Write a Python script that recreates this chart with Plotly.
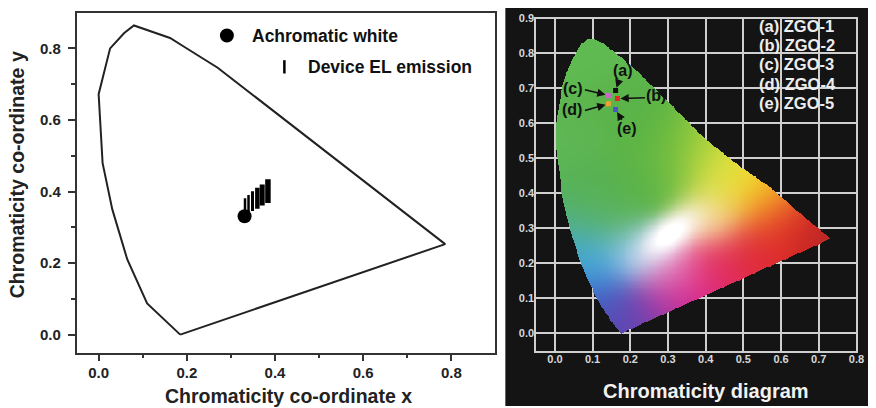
import numpy as np
import plotly.graph_objects as go

W, H = 876, 408
FONT = "Liberation Sans, Arial, sans-serif"

# ---------------- Left panel data ----------------
locus_x = [0.185, 0.11, 0.065, 0.031, 0.009, 0.0, 0.026, 0.058, 0.08, 0.162, 0.192, 0.27, 0.786, 0.185]
locus_y = [0.0, 0.087, 0.21, 0.35, 0.479, 0.672, 0.80, 0.843, 0.864, 0.829, 0.806, 0.746, 0.253, 0.0]

white_x = [0.331]
white_y = [0.331]

el_x = [0.332, 0.340, 0.349, 0.360, 0.371, 0.384]
el_y = [0.352, 0.361, 0.373, 0.381, 0.390, 0.401]

left_ticks = [0.0, 0.2, 0.4, 0.6, 0.8]
left_tick_text = ["0.0", "0.2", "0.4", "0.6", "0.8"]
left_minor = [0.1, 0.3, 0.5, 0.7]

# ---------------- Right panel data ----------------
gamut_x = [0.175, 0.159, 0.133, 0.107, 0.085, 0.063, 0.045, 0.032, 0.019, 0.011, 0.004, 0.002,
           0.004, 0.011, 0.020, 0.032, 0.045, 0.059, 0.072, 0.087, 0.105, 0.124, 0.159, 0.220,
           0.308, 0.396, 0.483, 0.571, 0.650, 0.732, 0.190]
gamut_y = [0.000, 0.024, 0.061, 0.110, 0.160, 0.221, 0.280, 0.334, 0.400, 0.466, 0.520, 0.560,
           0.610, 0.655, 0.705, 0.749, 0.782, 0.810, 0.830, 0.843, 0.842, 0.833, 0.805, 0.749,
           0.655, 0.560, 0.485, 0.419, 0.345, 0.272, 0.008]

# colour anchors (x, y, rgb)
anchor_x = [0.08, 0.15, 0.04, 0.25, 0.20, 0.10, 0.30, 0.05, 0.14, 0.34,
            0.40, 0.47, 0.43, 0.53, 0.57, 0.42,
            0.60, 0.66, 0.72, 0.52, 0.43, 0.35, 0.28, 0.21, 0.17, 0.13, 0.09, 0.06, 0.20, 0.30]
anchor_y = [0.78, 0.65, 0.55, 0.55, 0.42, 0.42, 0.45, 0.35, 0.33, 0.52,
            0.50, 0.46, 0.42, 0.41, 0.36, 0.33,
            0.30, 0.28, 0.27, 0.24, 0.19, 0.13, 0.08, 0.04, 0.02, 0.11, 0.20, 0.27, 0.23, 0.19]
anchor_rgb = [(96, 186, 82), (90, 180, 74), (94, 182, 84), (92, 180, 68), (90, 178, 74), (88, 178, 80),
              (100, 184, 66), (85, 178, 100), (90, 178, 95), (120, 192, 62),
              (195, 218, 58), (236, 231, 62), (222, 224, 78), (248, 205, 25), (240, 132, 45), (250, 218, 172),
              (226, 45, 40), (215, 40, 38), (172, 38, 35), (222, 42, 55), (225, 45, 95), (222, 32, 135),
              (175, 50, 160), (105, 65, 175), (82, 75, 182), (60, 100, 196), (60, 165, 222),
              (75, 172, 190), (150, 205, 235), (236, 178, 216)]
white_blob = (0.305, 0.285)

zgo_x = [0.161, 0.166, 0.142, 0.142, 0.161]
zgo_y = [0.694, 0.671, 0.680, 0.656, 0.640]
zgo_colors = ["#111111", "#e8262a", "#c86ac8", "#f0a030", "#4b55c8"]
zgo_tags = ["(a)", "(b)", "(c)", "(d)", "(e)"]
zgo_names = ["ZGO-1", "ZGO-2", "ZGO-3", "ZGO-4", "ZGO-5"]

right_xticks = [0.0, 0.1, 0.2, 0.3, 0.4, 0.5, 0.6, 0.7, 0.8]
right_yticks = [0.0, 0.1, 0.2, 0.3, 0.4, 0.5, 0.6, 0.7, 0.8, 0.9]

# ---------------- gamut image ----------------
step = 0.0025
xs = np.arange(-0.05 + step / 2, 0.8, step)
ys = np.arange(-0.05 + step / 2, 0.9, step)
PX, PY = np.meshgrid(xs, ys)

def inside(px, py, vx, vy):
    res = np.zeros(px.shape, bool)
    n = len(vx)
    j = n - 1
    for i in range(n):
        xi, yi, xj, yj = vx[i], vy[i], vx[j], vy[j]
        cond = ((yi > py) != (yj > py)) & (px < (xj - xi) * (py - yi) / (yj - yi + 1e-12) + xi)
        res ^= cond
        j = i
    return res

mask = inside(PX, PY, gamut_x, gamut_y)
sig = 0.058
wsum = np.zeros(PX.shape)
col = np.zeros(PX.shape + (3,))
for ax_, ay_, c in zip(anchor_x, anchor_y, anchor_rgb):
    w = np.exp(-((PX - ax_) ** 2 + (PY - ay_) ** 2) / (2 * sig ** 2)) + 1e-30
    wsum += w
    col += w[..., None] * np.array(c, float)
col /= wsum[..., None]
ang = np.deg2rad(40)
u = (PX - white_blob[0]) * np.cos(ang) + (PY - white_blob[1]) * np.sin(ang)
v = -(PX - white_blob[0]) * np.sin(ang) + (PY - white_blob[1]) * np.cos(ang)
f = np.clip(1.2 * np.exp(-((u / 0.09) ** 2 + (v / 0.046) ** 2)), 0, 1)
col = col * (1 - f[..., None]) + 255 * f[..., None]
z = np.zeros(PX.shape + (4,), dtype=int)
z[..., :3] = np.clip(np.round(col), 0, 255).astype(int)
z[..., 3] = mask.astype(int)
z[~mask, :3] = 0

fig = go.Figure()

# left traces
fig.add_trace(go.Scatter(x=locus_x, y=locus_y, mode="lines", line=dict(color="#222222", width=2),
                         xaxis="x", yaxis="y", showlegend=False, hoverinfo="skip"))
fig.add_trace(go.Scatter(x=el_x, y=el_y, mode="markers", xaxis="x", yaxis="y", showlegend=False,
                         name="Device EL emission",
                         marker=dict(symbol="line-ns", size=[15, 15, 14, 15, 15, 17], color="#000",
                                     opacity=1,
                                     line=dict(color="#000", width=[2.5, 2.5, 3, 4.5, 5, 5.5]))))
fig.add_trace(go.Scatter(x=white_x, y=white_y, mode="markers", xaxis="x", yaxis="y", showlegend=False,
                         name="Achromatic white", marker=dict(symbol="circle", size=14, color="#000")))

# right traces
fig.add_trace(go.Image(z=z.tolist(), colormodel="rgba", zmin=[0, 0, 0, 0], zmax=[255, 255, 255, 1],
                       x0=float(xs[0]), dx=step, y0=float(ys[0]), dy=step,
                       xaxis="x2", yaxis="y2", hoverinfo="skip"))
fig.add_trace(go.Scatter(x=zgo_x, y=zgo_y, mode="markers", xaxis="x2", yaxis="y2", showlegend=False,
                         marker=dict(symbol="square", size=5, color=zgo_colors)))

def px2x(p):
    return p / W

def px2y(p):
    return 1 - p / H

tickfont_l = dict(family=FONT, size=15, color="#222", weight="bold")
tickfont_r = dict(family=FONT, size=11, color="#d8d8d8", weight="bold")
fig.update_layout(
    width=W, height=H, margin=dict(l=0, r=0, t=0, b=0),
    paper_bgcolor="white", plot_bgcolor="rgba(0,0,0,0)", showlegend=False,
    xaxis=dict(domain=[px2x(77.3), px2x(500)], range=[-0.05, 0.9], tickvals=left_ticks, ticktext=left_tick_text,
               ticks="outside", ticklen=7, tickwidth=1.5, tickcolor="#333", showgrid=False, zeroline=False,
               showline=True, linecolor="#333", linewidth=1.5, mirror=True, tickfont=tickfont_l,
               ticklabelstandoff=-1,
               minor=dict(tickvals=left_minor, ticks="outside", ticklen=4, tickwidth=1.5, tickcolor="#333"),
               anchor="y", fixedrange=True),
    yaxis=dict(domain=[px2y(351.7), px2y(6.7)], range=[-0.05, 0.9], tickvals=left_ticks, ticktext=left_tick_text,
               ticks="outside", ticklen=7, tickwidth=1.5, tickcolor="#333", showgrid=False, zeroline=False,
               showline=True, linecolor="#333", linewidth=1.5, mirror=True, tickfont=tickfont_l,
               ticklabelstandoff=4,
               minor=dict(tickvals=left_minor, ticks="outside", ticklen=4, tickwidth=1.5, tickcolor="#333"),
               anchor="x", fixedrange=True),
    xaxis2=dict(domain=[px2x(541), px2x(864.3)], range=[-0.05, 0.8], tickvals=right_xticks,
                ticktext=[f"{v:.1f}" for v in right_xticks], ticks="", showgrid=True, gridcolor="#cfcfcf",
                gridwidth=1.5, zeroline=False, showline=True, linecolor="#cfcfcf", linewidth=1.5, mirror=True,
                tickfont=tickfont_r, ticklabelstandoff=-3,
                anchor="y2", fixedrange=True),
    yaxis2=dict(domain=[px2y(350), px2y(12.7)], range=[-0.05, 0.9], tickvals=right_yticks,
                ticktext=[f"{v:.1f}" for v in right_yticks], ticks="", showgrid=True, gridcolor="#cfcfcf",
                gridwidth=1.5, zeroline=False, showline=True, linecolor="#cfcfcf", linewidth=1.5, mirror=True,
                tickfont=tickfont_r, ticklabelstandoff=-2,
                anchor="x2", scaleanchor=False, autorange=False, fixedrange=True),
)

shapes = [
    dict(type="rect", xref="paper", yref="paper", x0=px2x(510), x1=1, y0=px2y(406), y1=px2y(2),
         fillcolor="#141414", line=dict(width=0), layer="below"),
    dict(type="circle", xref="paper", yref="paper", xsizemode="pixel", ysizemode="pixel",
         xanchor=px2x(229), yanchor=px2y(30), x0=-7, x1=7, y0=-7, y1=7,
         fillcolor="#000", line=dict(width=0)),
    dict(type="line", xref="paper", yref="paper", x0=px2x(287), x1=px2x(287), y0=px2y(55), y1=px2y(68.5),
         line=dict(color="#000", width=2.5)),
]
fig.update_layout(shapes=shapes)

ann = []
lab = dict(family=FONT, size=17.5, color="#111", weight="bold")
ann.append(dict(x=px2x(252), y=px2y(30), xref="paper", yref="paper", text="Achromatic white",
                showarrow=False, xanchor="left", yanchor="middle", font=lab))
ann.append(dict(x=px2x(309), y=px2y(61.7), xref="paper", yref="paper", text="Device EL emission",
                showarrow=False, xanchor="left", yanchor="middle", font=lab))
tit = dict(family=FONT, size=19.5, color="#222", weight="bold")
ann.append(dict(x=px2x(291), y=px2y(396), xref="paper", yref="paper", text="Chromaticity co-ordinate x",
                showarrow=False, xanchor="center", yanchor="middle", font=tit))
ann.append(dict(x=px2x(18), y=px2y(171), xref="paper", yref="paper", text="Chromaticity co-ordinate y",
                showarrow=False, xanchor="center", yanchor="middle", textangle=-90, font=tit))
ann.append(dict(x=px2x(713), y=px2y(390.5), xref="paper", yref="paper", text="Chromaticity diagram",
                showarrow=False, xanchor="center", yanchor="middle",
                font=dict(family=FONT, size=20, color="#f2f2f2", weight="bold")))
leg_rows = [20.7, 40, 59.3, 78.7, 98]
for tag, name, r in zip(zgo_tags, zgo_names, leg_rows):
    ann.append(dict(x=px2x(764), y=px2y(r), xref="paper", yref="paper", text=f"{tag} {name}",
                    showarrow=False, xanchor="left", yanchor="middle",
                    font=dict(family=FONT, size=16.5, color="#ececec", weight="bold")))

# arrows (tail offsets, px) and label offsets (px) around each sample marker
arrow_tail = [(4, -12), (29, -1), (-25, -6), (-25, 7), (7, 12)]
label_shift = [(7.6, 20.2), (39, 3.5), (-35.8, 7), (-36.3, -5.7), (11, -19)]
for tag, xx, yy, (tax, tay), (lx, ly) in zip(zgo_tags, zgo_x, zgo_y, arrow_tail, label_shift):
    ann.append(dict(x=xx, y=yy, xref="x2", yref="y2", text="", showarrow=True, ax=tax, ay=tay,
                    arrowhead=2, arrowsize=1.1, arrowwidth=1.5, arrowcolor="#111", standoff=3))
    ann.append(dict(x=xx, y=yy, xref="x2", yref="y2", text=tag, showarrow=False,
                    xshift=lx, yshift=ly, xanchor="center", yanchor="middle",
                    font=dict(family=FONT, size=16, color="#111", weight="bold")))
fig.update_layout(annotations=ann)

fig.write_html("out.html")
